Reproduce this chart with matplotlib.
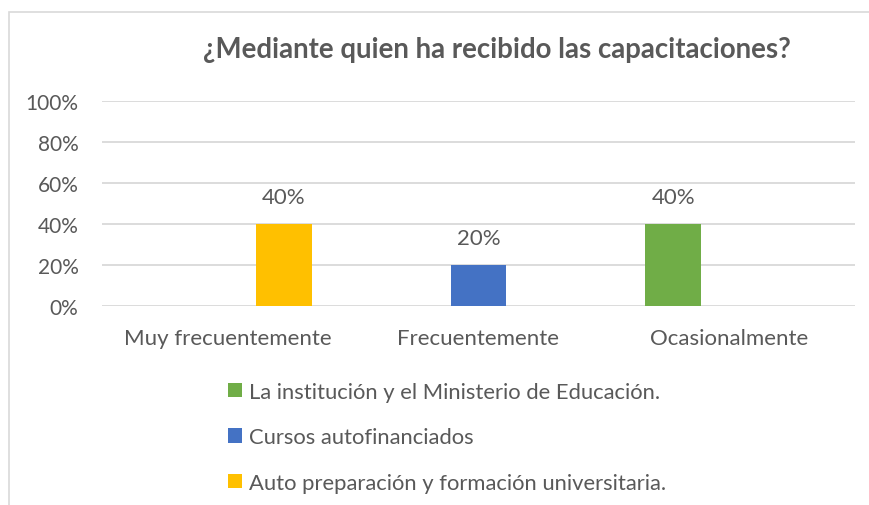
import matplotlib.pyplot as plt
import numpy as np
from matplotlib.patches import Rectangle

categories = ["Muy frecuentemente", "Frecuentemente", "Ocasionalmente"]
series_names = ["La institución y el Ministerio de Educación.",
                "Cursos autofinanciados",
                "Auto preparación y formación universitaria."]
values = {
    series_names[0]: [0.0, 0.0, 0.40],
    series_names[1]: [0.0, 0.20, 0.0],
    series_names[2]: [0.40, 0.0, 0.0],
}
colors = ["#70AD47", "#4472C4", "#FFC000"]
yticks = [0, 0.2, 0.4, 0.6, 0.8, 1.0]
ytick_labels = ["0%", "20%", "40%", "60%", "80%", "100%"]
title = "¿Mediante quien ha recibido las capacitaciones?"

plt.rcParams['font.family'] = ['Lato', 'DejaVu Sans']
txt = "#595959"

fig = plt.figure(figsize=(8.7, 5.06), dpi=100)
W, H = 870, 506
ax = fig.add_axes([102 / W, 1 - 307 / H, (855 - 102) / W, (307 - 102) / H])

# chart border
fig.add_artist(Rectangle((9 / W, -0.1), 1.2, 1 - 13 / H + 0.1, transform=fig.transFigure,
                         fill=False, edgecolor="#D9D9D9", linewidth=1.2))

x = np.arange(len(categories))
bw = 0.222
offsets = [-0.224, 0.0, 0.224]
handles = []
for name, c, off in zip(series_names, colors, offsets):
    vals = values[name]
    bars = ax.bar(x + off, vals, width=bw, color=c, zorder=3, label=name)
    handles.append(bars)
    for xi, v in zip(x + off, vals):
        if v > 0:
            ax.annotate(f"{v*100:.0f}%", (xi, v), xytext=(0, 12), textcoords="offset points",
                        ha="center", va="bottom", fontsize=16, color=txt)

ax.set_xlim(-0.5, len(categories) - 0.5)
ax.set_ylim(0, 1.0)
ax.set_yticks(yticks)
ax.set_yticklabels(ytick_labels, fontsize=15, color=txt)
ax.set_xticks(x)
ax.set_xticklabels(categories, fontsize=16, color=txt)
ax.tick_params(axis="both", length=0)
ax.tick_params(axis="y", pad=17)
ax.tick_params(axis="x", pad=16)
ax.grid(axis="y", color="#D9D9D9", linewidth=1.3, zorder=0)
for s in ax.spines.values():
    s.set_visible(False)

fig.text(497 / W, 1 - 50 / H, title, ha="center", va="center", fontsize=19.9,
         fontweight="bold", color=txt)

fig.legend(handles=handles, labels=series_names, loc="upper left",
           bbox_to_anchor=(219 / W, 1 - 374 / H), frameon=False, fontsize=15.8,
           handlelength=0.65, handleheight=0.65, handletextpad=0.3,
           labelspacing=1.16, labelcolor=txt, borderaxespad=0)

fig.savefig("out.png", dpi=100)
